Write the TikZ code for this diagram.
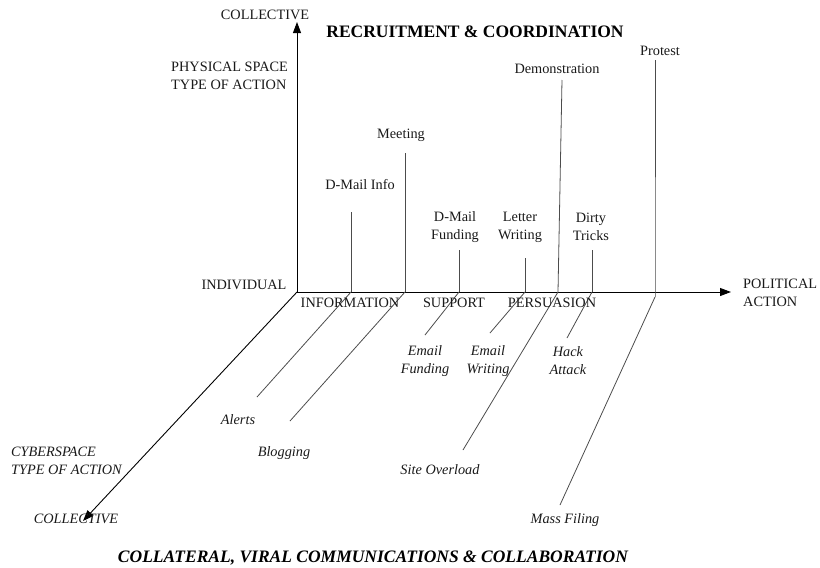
\documentclass[tikz,border=0pt]{standalone}
\usepackage{fontspec}
\setmainfont{Liberation Serif}
\usetikzlibrary{arrows.meta}
\begin{document}
\begin{tikzpicture}[x=1pt,y=-1pt,
  axisline/.style={draw=black, line width=0.9pt, -{Triangle[length=11pt,width=8pt]}},
  branch/.style={draw=black!70, line width=0.8pt},
  lbl/.style={font=\fontsize{14.3}{18}\selectfont, align=center, inner sep=0pt, text=black!90},
  cyb/.style={lbl, font=\fontsize{14.3}{18}\selectfont\itshape},
  ttl/.style={inner sep=0pt, font=\fontsize{17.5}{20}\selectfont\bfseries}]
\useasboundingbox (0,0) rectangle (820,568);
% axis points
\coordinate (O) at (297,292);
\coordinate (Ytop) at (297,22);
\coordinate (Xend) at (731,292);
\coordinate (Zend) at (83,521);
\coordinate (a1) at (351,292);
\coordinate (a2) at (405,292);
\coordinate (a3) at (459,292);
\coordinate (a4) at (525,292);
\coordinate (a5) at (558,292);
\coordinate (a6) at (592,292);
\coordinate (a7) at (655,297);
\coordinate (a7u) at (655,292);
% axes
\draw[axisline] (O) -- (Ytop);
\draw[axisline] (O) -- (Xend);
\draw[axisline] (O) -- (Zend);
% physical-space ends
\coordinate (p1) at (351,212);
\coordinate (p2) at (405,153);
\coordinate (p3) at (459,250);
\coordinate (p4) at (525,258);
\coordinate (p5) at (562,80);
\coordinate (p6) at (592,250);
\coordinate (p7) at (655,60);
% cyberspace ends
\coordinate (c1) at (257,397);
\coordinate (c2) at (290,421);
\coordinate (c3) at (425,335);
\coordinate (c4) at (490,333);
\coordinate (c5) at (463,450);
\coordinate (c6) at (567,338);
\coordinate (c7) at (560,505);
\foreach \i in {1,...,6} {\draw[branch] (a\i) -- (p\i);}
\draw[branch] (a7) -- (a7u) -- (p7);
\foreach \i in {1,...,7} {\draw[branch] (a\i) -- (c\i);}
% axis labels
\node[lbl] (topcoll) at (265,15) {COLLECTIVE};
\node[ttl] (title) at (475,32) {RECRUITMENT \& COORDINATION};
\node[lbl, align=left, anchor=west] (phys) at (171,76) {PHYSICAL SPACE\\TYPE OF ACTION};
\node[lbl] (indiv) at (244,285) {INDIVIDUAL};
\node[lbl] (info) at (350,303) {INFORMATION};
\node[lbl] (supp) at (454,303) {SUPPORT};
\node[lbl] (pers) at (552,303) {PERSUASION};
\node[lbl, align=left, anchor=west] (pol) at (743,293) {POLITICAL\\ACTION};
\node[cyb, align=left, anchor=west] (cyber) at (11,461) {CYBERSPACE\\TYPE OF ACTION};
\node[cyb] (botcoll) at (76,519) {COLLECTIVE};
\node[ttl, font=\fontsize{17.5}{20}\selectfont\bfseries\itshape] (btitle) at (373,558) {COLLATERAL, VIRAL COMMUNICATIONS \& COLLABORATION};
% physical labels
\node[lbl] (l1) at (360,185) {D-Mail Info};
\node[lbl] (l2) at (401,135) {Meeting};
\node[lbl] (l3) at (455,227) {D-Mail\\Funding};
\node[lbl] (l4) at (520,227) {Letter\\Writing};
\node[lbl] (l5) at (557,69) {Demonstration};
\node[lbl] (l6) at (591,227) {Dirty\\Tricks};
\node[lbl] (l7) at (660,51) {Protest};
% cyber labels
\node[cyb] (k1) at (238,420) {Alerts};
\node[cyb] (k2) at (284,453) {Blogging};
\node[cyb] (k3) at (425,361) {Email\\Funding};
\node[cyb] (k4) at (488,361) {Email\\Writing};
\node[cyb] (k5) at (440,470) {Site Overload};
\node[cyb] (k6) at (568,361) {Hack\\Attack};
\node[cyb] (k7) at (565,520) {Mass Filing};
\end{tikzpicture}
\end{document}
